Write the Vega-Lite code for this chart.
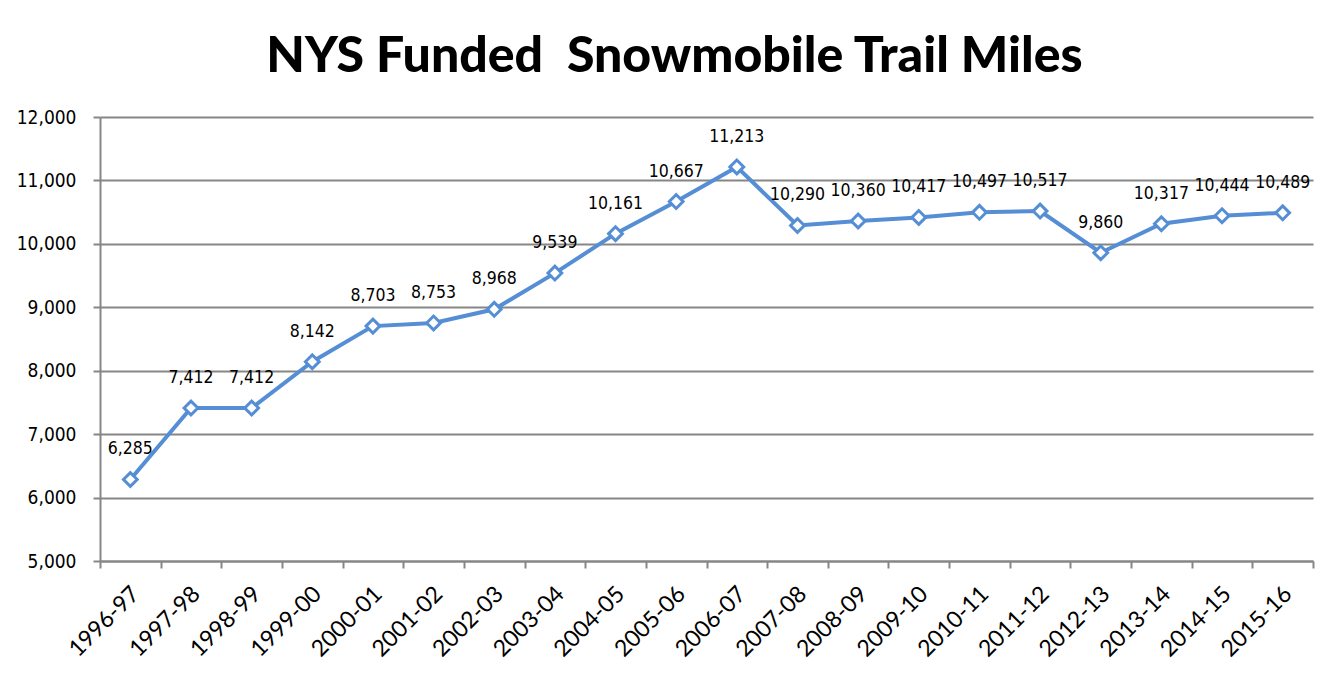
{
  "$schema": "https://vega.github.io/schema/vega-lite/v6.json",
  "width": 1213,
  "height": 444,
  "autosize": "none",
  "padding": {"left": 100, "top": 117, "right": 30, "bottom": 113},
  "background": "white",
  "title": {"text": "NYS Funded\u00a0 Snowmobile Trail Miles", "font": "Lato", "fontWeight": 900, "fontSize": 50, "color": "black", "anchor": "middle", "dx": -32, "offset": 26},
  "data": {"values": [
    {"season": "1996-97", "miles": 6285},
    {"season": "1997-98", "miles": 7412},
    {"season": "1998-99", "miles": 7412},
    {"season": "1999-00", "miles": 8142},
    {"season": "2000-01", "miles": 8703},
    {"season": "2001-02", "miles": 8753},
    {"season": "2002-03", "miles": 8968},
    {"season": "2003-04", "miles": 9539},
    {"season": "2004-05", "miles": 10161},
    {"season": "2005-06", "miles": 10667},
    {"season": "2006-07", "miles": 11213},
    {"season": "2007-08", "miles": 10290},
    {"season": "2008-09", "miles": 10360},
    {"season": "2009-10", "miles": 10417},
    {"season": "2010-11", "miles": 10497},
    {"season": "2011-12", "miles": 10517},
    {"season": "2012-13", "miles": 9860},
    {"season": "2013-14", "miles": 10317},
    {"season": "2014-15", "miles": 10444},
    {"season": "2015-16", "miles": 10489}
  ]},
  "encoding": {
    "x": {"field": "season", "type": "ordinal", "sort": null,
      "scale": {"type": "band", "paddingInner": 0, "paddingOuter": 0},
      "axis": {"title": null, "labelAngle": -45, "labelAlign": "right", "labelBaseline": "middle", "labelFont": "Lato", "labelFontSize": 23, "labelColor": "black", "labelPadding": 22, "labelOffset": 5, "tickBand": "extent", "tickSize": 7, "tickColor": "#868686", "tickWidth": 2, "domainColor": "#868686", "domainWidth": 2, "grid": false}},
    "y": {"field": "miles", "type": "quantitative",
      "scale": {"domain": [5000, 12000], "nice": false, "zero": false},
      "axis": {"title": null, "values": [5000, 6000, 7000, 8000, 9000, 10000, 11000, 12000], "format": ",.0f", "labelFont": "DejaVu Sans Condensed", "labelFontSize": 19, "labelColor": "black", "labelPadding": 17, "tickSize": 7, "tickColor": "#868686", "tickWidth": 2, "domainColor": "#868686", "domainWidth": 2, "grid": true, "gridColor": "#868686", "gridWidth": 2}}
  },
  "layer": [
    {"mark": {"type": "line", "color": "#558ED5", "strokeWidth": 4}},
    {"mark": {"type": "point", "shape": "diamond", "filled": true, "fill": "white", "stroke": "#558ED5", "strokeWidth": 3, "size": 190, "opacity": 1}},
    {"mark": {"type": "text", "dy": -30, "font": "DejaVu Sans Condensed", "fontSize": 17.5, "color": "black"},
     "encoding": {"text": {"field": "miles", "type": "quantitative", "format": ","}}}
  ],
  "config": {"view": {"stroke": null}}
}
